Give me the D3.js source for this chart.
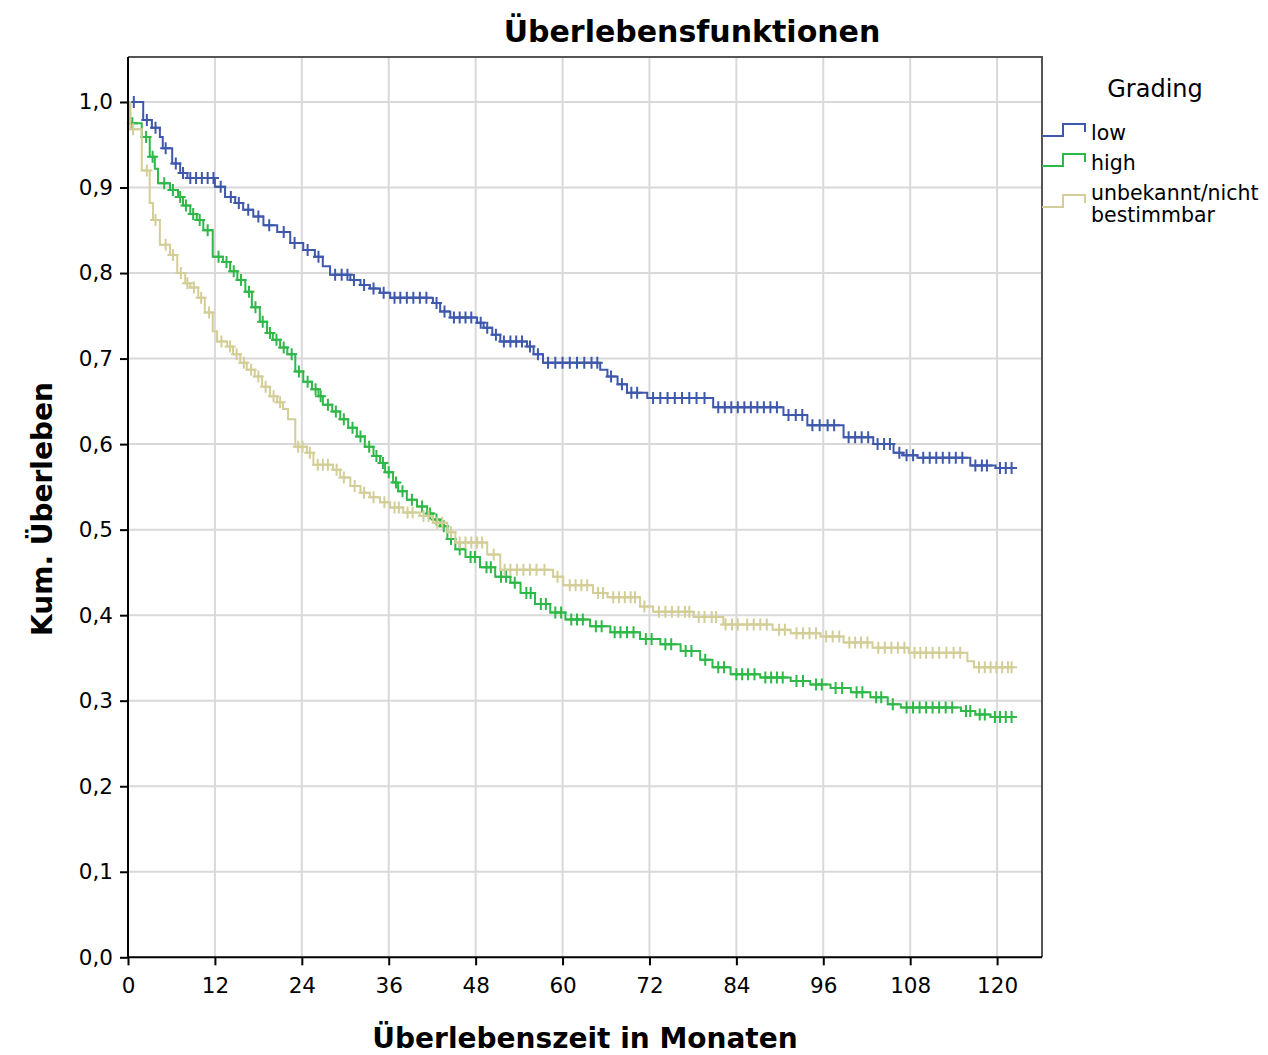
<!DOCTYPE html>
<html>
<head>
<meta charset="utf-8">
<script src="https://cdn.jsdelivr.net/npm/d3@7"></script>
<style>
  html, body { margin: 0; padding: 0; background: #fff; }
  svg { display: block; }
  text { font-family: "DejaVu Sans", "Liberation Sans", sans-serif; fill: #000; }
</style>
</head>
<body>
<svg id="chart" width="1268" height="1055"></svg>
<script>
// ---------- DATA ----------
const chartTitle = "Überlebensfunktionen";
const xTitle = "Überlebenszeit in Monaten";
const yTitle = "Kum. Überleben";
const legendTitle = "Grading";
const seriesNames = ["low", "high", "unbekannt/nicht bestimmbar"];
const seriesColors = ["#3e58ac", "#2eb848", "#d3ce97"];
const xTicks = [0, 12, 24, 36, 48, 60, 72, 84, 96, 108, 120];
const yTicks = [0, 0.1, 0.2, 0.3, 0.4, 0.5, 0.6, 0.7, 0.8, 0.9, 1.0];

// step points: [month, survival after step]
const lowSteps = [
  [0,1.0],[2.1,0.979],[3.3,0.970],[4.4,0.959],[4.8,0.946],[6.1,0.928],[7.2,0.917],[8.2,0.911],
  [12.0,0.901],[13.4,0.889],[14.8,0.882],[15.9,0.874],[17.3,0.866],[18.7,0.856],[20.6,0.848],
  [22.4,0.835],[24.2,0.827],[25.8,0.819],[26.9,0.808],[27.9,0.798],[30.7,0.792],[32.1,0.786],
  [33.4,0.782],[34.8,0.777],[36.2,0.771],[42.1,0.765],[43.1,0.755],[44.5,0.748],[48.2,0.742],
  [49.1,0.736],[50.3,0.728],[51.4,0.720],[55.1,0.714],[56.0,0.705],[57.3,0.695],[65.2,0.687],
  [66.2,0.679],[67.6,0.670],[68.9,0.660],[71.7,0.654],[80.8,0.643],[90.5,0.634],[93.8,0.622],
  [98.8,0.608],[102.9,0.600],[105.7,0.590],[107.0,0.587],[109.0,0.584],[116.3,0.575],[119.8,0.572]
];
const lowEnd = 122.0;
const lowCensor = [0.8,2.6,3.8,5.2,6.6,7.6,8.6,9.4,10.2,11.0,11.8,12.8,14.2,15.3,16.6,18.0,19.5,21.5,
  23.0,24.8,26.3,28.6,29.5,30.3,31.2,32.6,33.9,35.3,36.8,37.6,38.5,39.4,40.3,41.2,42.6,43.7,45.0,45.8,
  46.6,47.4,48.7,49.6,50.8,51.9,52.8,53.6,54.4,55.5,56.6,58.0,59.0,60.0,61.0,62.0,63.0,64.0,64.8,66.7,
  68.2,69.5,70.3,72.5,73.5,74.5,75.5,76.5,77.5,78.5,79.6,81.5,82.4,83.3,84.2,85.1,86.0,86.9,87.8,88.7,
  89.6,91.2,92.2,93.1,94.5,95.5,96.6,97.5,99.5,100.4,101.3,102.2,103.5,104.4,105.2,106.5,107.5,108.4,
  109.8,110.7,111.6,112.5,113.4,114.3,115.2,117.0,117.9,118.6,120.4,121.2,122.0];

const highSteps = [
  [0,1.0],[0.3,0.975],[1.9,0.959],[3.0,0.936],[3.7,0.922],[4.15,0.905],[5.8,0.897],[6.9,0.889],
  [7.6,0.879],[8.6,0.869],[9.5,0.862],[10.4,0.850],[11.7,0.819],[13.1,0.813],[14.1,0.802],
  [15.1,0.792],[16.2,0.778],[17.1,0.760],[18.2,0.743],[19.2,0.730],[20.0,0.722],[21.0,0.713],
  [22.0,0.705],[23.1,0.685],[24.2,0.673],[25.4,0.664],[26.3,0.656],[26.9,0.646],[28.2,0.638],
  [29.3,0.629],[30.4,0.619],[31.6,0.609],[32.7,0.597],[33.9,0.586],[34.8,0.578],[35.5,0.567],
  [36.6,0.555],[37.3,0.545],[38.5,0.535],[39.9,0.527],[41.3,0.519],[42.1,0.512],[43.1,0.504],
  [44.1,0.489],[45.2,0.477],[46.6,0.468],[48.6,0.456],[50.7,0.445],[52.8,0.438],[54.2,0.426],
  [56.2,0.413],[58.3,0.403],[60.4,0.395],[63.8,0.387],[66.6,0.380],[70.7,0.372],[73.5,0.366],
  [76.3,0.358],[79.0,0.348],[80.7,0.339],[83.2,0.331],[87.3,0.327],[91.5,0.323],[94.2,0.319],
  [97.0,0.315],[99.8,0.310],[102.5,0.304],[104.9,0.296],[106.7,0.292],[115.0,0.288],[117.0,0.284],
  [119.1,0.281]
];
const highEnd = 122.0;
const highCensor = [0.6,2.5,3.4,5.0,6.2,7.2,8.0,9.0,9.9,11.0,12.5,13.6,14.6,15.6,16.7,17.6,18.6,19.6,
  20.5,21.5,22.6,23.6,24.8,25.9,26.6,27.6,28.7,29.8,31.0,32.1,33.3,34.3,35.2,36.0,37.0,37.9,39.2,40.6,
  41.7,42.6,43.6,44.6,45.8,47.3,47.9,49.5,50.1,51.5,52.2,53.4,55.0,55.6,57.0,57.7,59.0,59.8,61.2,62.0,
  62.8,64.6,65.4,67.2,68.0,68.9,69.8,71.5,72.3,74.2,75.0,77.0,77.8,79.7,81.5,82.3,84.0,84.8,85.6,86.5,
  88.0,88.8,89.6,90.4,92.3,93.2,95.0,95.8,97.7,98.6,100.6,101.4,103.3,104.0,105.6,107.5,108.4,109.3,
  110.2,111.1,112.0,112.9,113.8,115.7,116.3,117.6,118.3,119.7,120.4,121.2,122.0];

const unkSteps = [
  [0,1.0],[0.3,0.968],[1.9,0.920],[3.0,0.882],[3.45,0.862],[4.4,0.833],[5.8,0.821],[6.8,0.800],
  [7.9,0.788],[8.6,0.783],[9.7,0.771],[10.6,0.754],[11.7,0.732],[12.3,0.720],[13.7,0.714],
  [14.5,0.705],[15.5,0.695],[16.4,0.687],[17.5,0.679],[18.5,0.667],[19.6,0.656],[20.6,0.649],
  [21.4,0.641],[22.1,0.629],[23.1,0.597],[24.7,0.590],[25.6,0.576],[28.3,0.570],[29.3,0.561],
  [30.7,0.551],[32.1,0.543],[33.4,0.538],[34.8,0.532],[36.2,0.526],[38.0,0.520],[40.3,0.516],
  [42.1,0.508],[44.1,0.497],[45.2,0.485],[49.6,0.471],[51.4,0.453],[58.7,0.445],[60.1,0.435],
  [64.2,0.426],[66.2,0.421],[70.7,0.410],[72.5,0.404],[78.1,0.398],[82.2,0.389],[89.0,0.383],
  [91.5,0.379],[95.6,0.375],[98.8,0.368],[102.8,0.362],[107.8,0.356],[115.9,0.346],[116.8,0.339]
];
const unkEnd = 122.0;
const unkCensor = [0.7,2.6,3.8,5.2,6.2,7.3,8.2,9.1,10.1,11.2,12.9,14.1,15.0,16.0,17.0,18.0,19.0,20.1,
  21.0,23.5,24.1,25.1,26.2,26.9,27.6,28.8,29.8,31.3,32.6,33.9,35.4,36.8,37.4,38.6,39.3,40.8,41.5,42.7,
  43.4,44.6,45.8,46.6,47.4,48.2,48.9,50.5,52.0,52.8,53.7,54.6,55.5,56.4,57.5,59.3,61.0,61.8,62.6,63.4,
  64.9,65.6,67.0,67.8,68.6,69.4,70.0,71.3,73.3,74.2,75.1,76.0,76.9,77.5,78.8,79.6,80.6,81.2,82.5,83.4,
  84.2,85.5,86.4,87.3,88.2,89.9,90.7,92.3,93.2,94.1,95.0,96.4,97.3,98.2,99.6,100.4,101.2,102.1,103.6,
  104.5,105.4,106.3,107.2,108.6,109.4,110.2,111.1,112.0,113.0,114.0,114.9,117.5,118.3,119.1,119.9,
  120.7,121.5,122.0];

const seriesSteps = [lowSteps, highSteps, unkSteps];
const seriesEnds = [lowEnd, highEnd, unkEnd];
const seriesCensor = [lowCensor, highCensor, unkCensor];

// ---------- LAYOUT ----------
const svg = d3.select("#chart");
const L = 128, R = 1042, T = 57, B = 957.3;
const x = d3.scaleLinear().domain([0, 126.2]).range([L, R]);
const y = d3.scaleLinear().domain([0, 1.0526]).range([B, T]);

// grid
const grid = svg.append("g");
grid.selectAll("line.vx").data(xTicks.filter(d => d > 0)).join("line")
  .attr("x1", d => x(d)).attr("x2", d => x(d)).attr("y1", T).attr("y2", B)
  .attr("stroke", "#d9d9d9").attr("stroke-width", 2);
grid.selectAll("line.hy").data(yTicks.filter(d => d > 0)).join("line")
  .attr("x1", L).attr("x2", R).attr("y1", d => y(d)).attr("y2", d => y(d))
  .attr("stroke", "#d9d9d9").attr("stroke-width", 2);

// frame (top/right)
svg.append("path")
  .attr("d", `M${L},${T}H${R}V${B}`)
  .attr("fill", "none").attr("stroke", "#555").attr("stroke-width", 2);

// curves
const stepLine = d3.line().x(d => x(d[0])).y(d => y(d[1])).curve(d3.curveStepAfter);
function survAt(steps, t) {
  let s = steps[0][1];
  for (const p of steps) { if (p[0] <= t) s = p[1]; else break; }
  return s;
}
const plot = svg.append("g");
seriesSteps.forEach((steps, i) => {
  const last = steps[steps.length - 1];
  const pts = steps.concat([[seriesEnds[i], last[1]]]);
  const g = plot.append("g");
  g.append("path").attr("d", stepLine(pts))
    .attr("fill", "none").attr("stroke", seriesColors[i]).attr("stroke-width", 2);
  g.selectAll("path.c").data(seriesCensor[i]).join("path")
    .attr("d", t => {
      const cx = x(t), cy = y(survAt(steps, t));
      return `M${cx - 5.5},${cy}H${cx + 5.5}M${cx},${cy - 6}V${cy + 6}`;
    })
    .attr("fill", "none").attr("stroke", seriesColors[i]).attr("stroke-width", 2);
});

// axes
const fmt = d => d3.format(".1f")(d).replace(".", ",");
const yAxis = svg.append("g").attr("transform", `translate(${L},0)`)
  .call(d3.axisLeft(y).tickValues(yTicks).tickFormat(fmt).tickSize(8).tickSizeOuter(0).tickPadding(7));
const xAxis = svg.append("g").attr("transform", `translate(0,${B})`)
  .call(d3.axisBottom(x).tickValues(xTicks).tickFormat(d3.format("d")).tickSize(8).tickSizeOuter(0).tickPadding(12));
[yAxis, xAxis].forEach(a => {
  a.select(".domain").attr("stroke", "#000").attr("stroke-width", 2);
  a.selectAll(".tick line").attr("stroke", "#000").attr("stroke-width", 2);
  a.selectAll(".tick text").attr("font-family", "'DejaVu Sans', sans-serif").attr("font-size", 21.5).attr("fill", "#222");
});
xAxis.select(".domain").attr("d", `M${L},0H${R}`);
yAxis.select(".domain").attr("d", `M0,${B}V${T}`);

// titles
svg.append("text").attr("x", 692).attr("y", 42).attr("text-anchor", "middle")
  .attr("font-size", 30).attr("font-weight", "bold").text(chartTitle);
svg.append("text").attr("x", 585).attr("y", 1048).attr("text-anchor", "middle")
  .attr("font-size", 28).attr("font-weight", "bold").text(xTitle);
svg.append("text").attr("transform", "translate(52,509) rotate(-90)").attr("text-anchor", "middle")
  .attr("font-size", 28).attr("font-weight", "bold").text(yTitle);

// legend
const lg = svg.append("g");
lg.append("text").attr("x", 1155).attr("y", 97).attr("text-anchor", "middle")
  .attr("font-size", 24).attr("fill", "#222").text(legendTitle);
const legendRows = [
  { lines: ["low"], base: 140, sym: 136 },
  { lines: ["high"], base: 170, sym: 166 },
  { lines: ["unbekannt/nicht", "bestimmbar"], base: 200, sym: 207 }
];
legendRows.forEach((r, i) => {
  lg.append("path")
    .attr("d", `M1042,${r.sym}H1063V${r.sym - 12}H1085V${r.sym - 4}`)
    .attr("fill", "none").attr("stroke", seriesColors[i]).attr("stroke-width", 2);
  r.lines.forEach((ln, j) => {
    lg.append("text").attr("x", 1091).attr("y", r.base + j * 22)
      .attr("font-size", 20.5).attr("fill", "#111").text(ln);
  });
});
</script>
</body>
</html>
